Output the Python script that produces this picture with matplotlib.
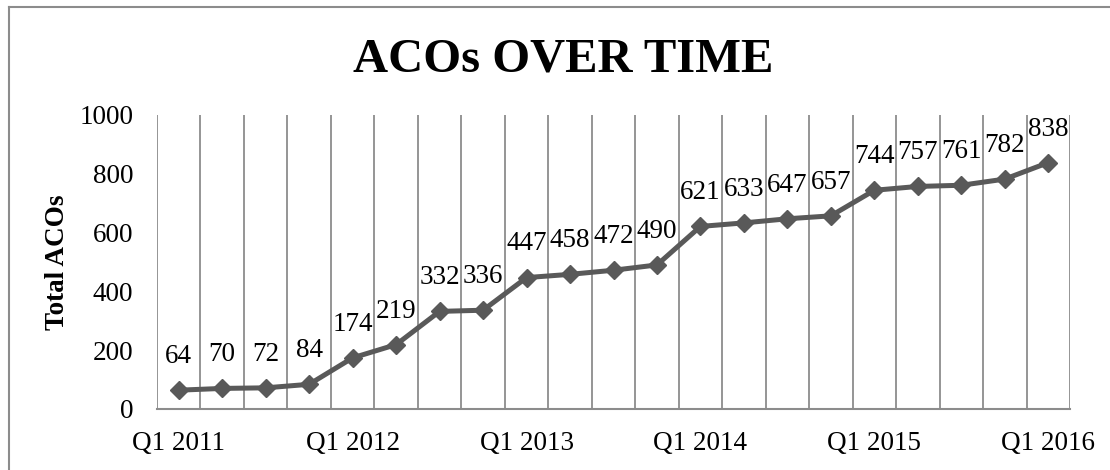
import numpy as np
import matplotlib
matplotlib.use("Agg")
from matplotlib import pyplot as plt
from matplotlib.lines import Line2D

quarters = ["Q1 2011", "Q2 2011", "Q3 2011", "Q4 2011",
            "Q1 2012", "Q2 2012", "Q3 2012", "Q4 2012",
            "Q1 2013", "Q2 2013", "Q3 2013", "Q4 2013",
            "Q1 2014", "Q2 2014", "Q3 2014", "Q4 2014",
            "Q1 2015", "Q2 2015", "Q3 2015", "Q4 2015",
            "Q1 2016"]
total_acos = [64, 70, 72, 84, 174, 219, 332, 336, 447, 458, 472, 490,
              621, 633, 647, 657, 744, 757, 761, 782, 838]
yticks = [0, 200, 400, 600, 800, 1000]

plt.rcParams['font.family'] = ['Liberation Serif', 'DejaVu Serif']

W, H = 1110, 470
fig = plt.figure(figsize=(W / 100, H / 100), dpi=100)
ax = fig.add_axes([157 / W, 1 - 409 / H, (1070 - 157) / W, (409 - 115) / H])

x = np.arange(len(quarters))
line_col = '#595959'
grid_col = '#8c8c8c'

# vertical gridlines between categories
for gx in np.arange(-0.5, len(quarters), 1.0):
    ax.axvline(gx, color=grid_col, lw=1.3, zorder=1)

ax.plot(x, total_acos, color=line_col, lw=3.6, marker='D', markersize=9.5,
        zorder=3, clip_on=False)

for xi, v in zip(x, total_acos):
    ax.annotate(str(v), (xi, v), xytext=(0, 19.5), textcoords='offset points',
                ha='center', va='baseline', fontsize=19.5, color='black')

ax.set_xlim(-0.5, len(quarters) - 0.5)
ax.set_ylim(0, 1000)
ax.set_yticks(yticks)
ax.set_xticks(x[::4])
ax.set_xticklabels([quarters[i] for i in range(0, len(quarters), 4)])
ax.tick_params(axis='both', length=0, labelsize=19.5)
ax.tick_params(axis='x', pad=16)
ax.tick_params(axis='y', pad=17)

for s in ['top', 'right', 'left']:
    ax.spines[s].set_visible(False)
ax.spines['bottom'].set_color(grid_col)
ax.spines['bottom'].set_linewidth(1.5)

fig.text(58 / W, 1 - 262 / H, 'Total ACOs', rotation=90, ha='center', va='center',
         fontsize=19.5, fontweight='bold')
fig.text(563 / W, 1 - 72 / H, 'ACOs OVER TIME', ha='center', va='baseline',
         fontsize=35, fontweight='bold')

# chart frame (only top and left edges show in the crop)
fig.add_artist(Line2D([9 / W, 1], [1 - 7 / H, 1 - 7 / H], transform=fig.transFigure,
                      color=grid_col, lw=1.5))
fig.add_artist(Line2D([9 / W, 9 / W], [0, 1 - 7 / H], transform=fig.transFigure,
                      color=grid_col, lw=1.5))

fig.savefig('out.png', dpi=100)
